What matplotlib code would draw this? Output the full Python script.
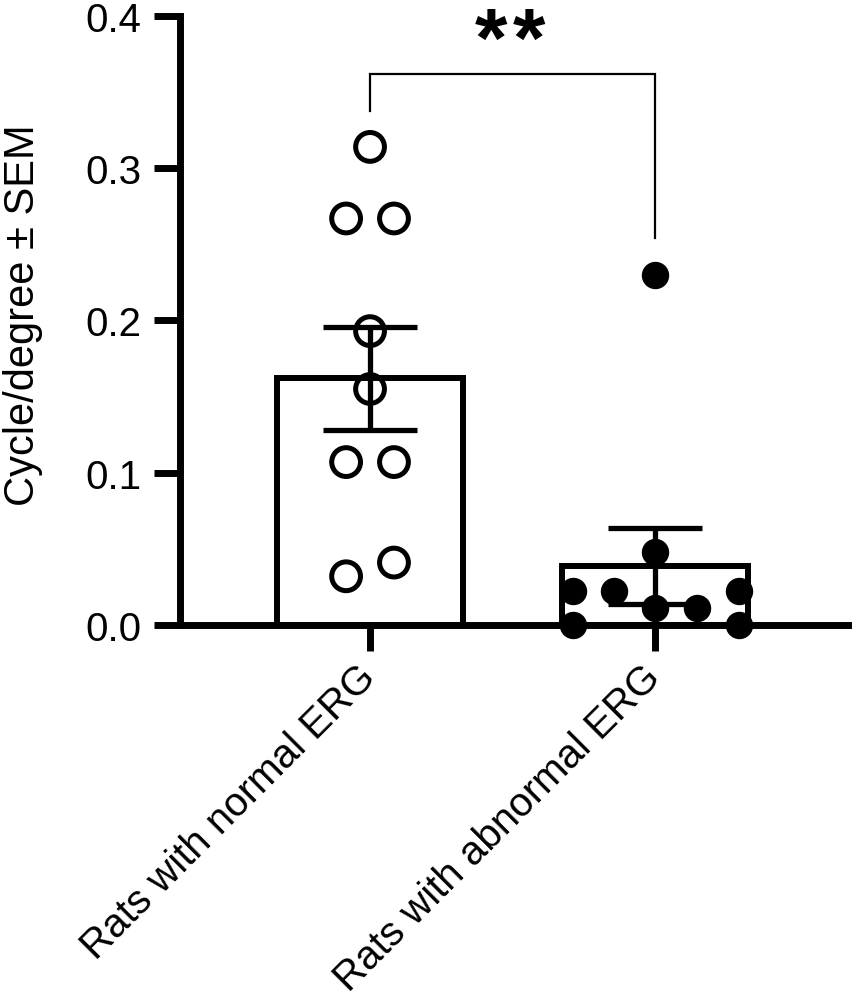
import matplotlib
matplotlib.use("Agg")
import matplotlib.pyplot as plt
import matplotlib.transforms as mtransforms

plt.rcParams['font.family'] = ['Liberation Sans', 'DejaVu Sans']

# data
groups = ["Rats with normal ERG", "Rats with abnormal ERG"]
bar_means = [0.162, 0.039]
bar_sems = [0.034, 0.025]
normal_vals = [0.314, 0.267, 0.267, 0.193, 0.155, 0.107, 0.107, 0.032, 0.041]
abnormal_vals = [0.230, 0.048, 0.022, 0.022, 0.022, 0.011, 0.011, 0.0, 0.0]
y_ticks = [0.0, 0.1, 0.2, 0.3, 0.4]
sig_label = "**"

# horizontal scatter of the dots (layout only)
normal_dx = [0, -0.084, 0.084, 0, 0, -0.084, 0.084, -0.084, 0.084]
abnormal_dx = [0, 0, -0.288, -0.144, 0.295, 0, 0.147, -0.288, 0.295]

fig = plt.figure(figsize=(8.53, 10.04), dpi=100)
ax = fig.add_axes([0.211, 0.3765, 0.783, 0.6066])

pos = list(range(len(groups)))
ax.bar(pos, bar_means, width=0.65, facecolor='white', edgecolor='black',
       linewidth=4.3, zorder=1)

ax.scatter([pos[0] + d for d in normal_dx], normal_vals, s=430,
           facecolors='none', edgecolors='black', linewidths=3.6, zorder=3)
ax.scatter([pos[1] + d for d in abnormal_dx], abnormal_vals, s=350,
           color='black', zorder=3, clip_on=False)

ax.errorbar(pos, bar_means, yerr=bar_sems, fmt='none', ecolor='black',
            elinewidth=3.8, capsize=34, capthick=3.8, zorder=4)

# significance bracket
ax.plot([0, 0, 1, 1], [0.3375, 0.3618, 0.3618, 0.254], color='black',
        linewidth=1.6, solid_joinstyle='miter')
star_x = [0.425, 0.558]
for ch, sx in zip(sig_label, star_x):
    ax.text(sx, 0.367, ch, ha='center', va='baseline', fontsize=60,
            fontweight='bold')

ax.set_xlim(-0.667, 1.677)
ax.set_ylim(0, 0.4)
ax.set_yticks(y_ticks)
ax.set_yticklabels([f"{t:.1f}" for t in y_ticks])
ax.set_xticks(pos)
ax.set_xticklabels(groups, rotation=45, ha='right', va='center',
                   rotation_mode='anchor', fontsize=29)
shift = mtransforms.ScaledTranslation(-0.07, 0.08, fig.dpi_scale_trans)
for lab in ax.get_xticklabels():
    lab.set_transform(lab.get_transform() + shift)
ax.set_ylabel("Cycle/degree \u00b1 SEM", fontsize=30)
ax.yaxis.set_label_coords(-0.205, 0.51)

for side in ['top', 'right']:
    ax.spines[side].set_visible(False)
ax.spines['left'].set_linewidth(5)
ax.spines['left'].set_capstyle('projecting')
ax.spines['bottom'].set_linewidth(5)

ax.tick_params(axis='both', length=19, width=5, labelsize=29, color='black')
ax.tick_params(axis='y', pad=9)
ax.tick_params(axis='x', pad=14, labelsize=29)

fig.savefig("out.png", dpi=100)
